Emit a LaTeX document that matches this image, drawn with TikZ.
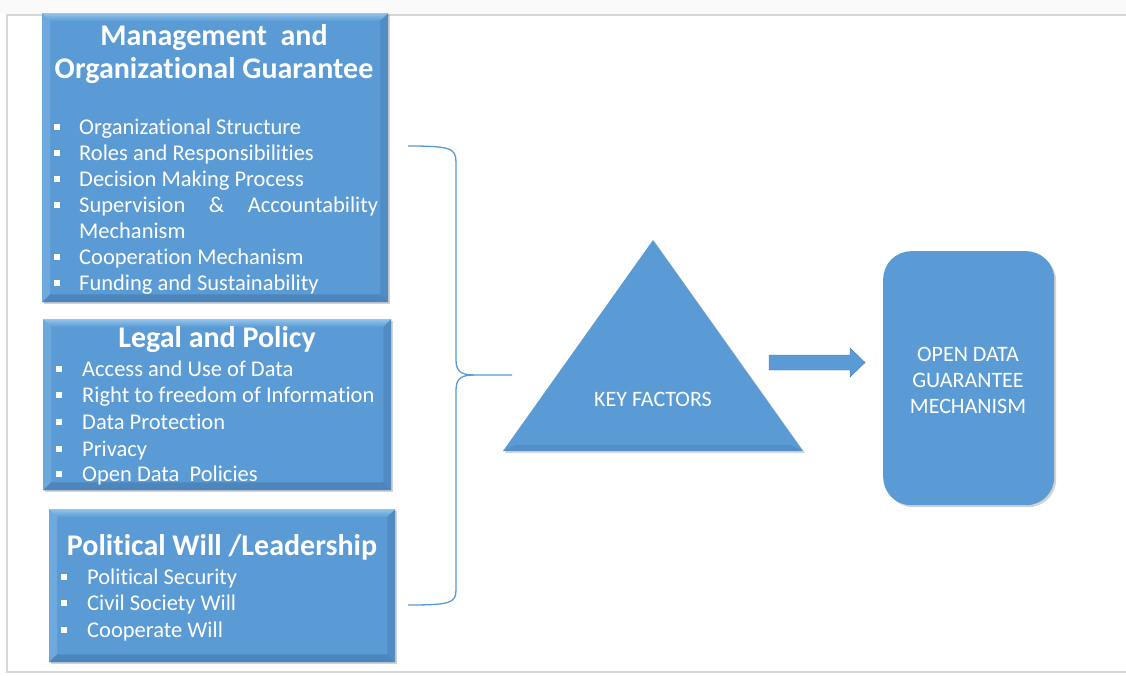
\documentclass[tikz,border=0pt]{standalone}
\usepackage{fontspec}
\setmainfont{Carlito}[Ligatures={NoCommon}]
\usetikzlibrary{shadows,calc}

\definecolor{boxblue}{HTML}{5B9BD5}
\definecolor{bevlight}{HTML}{93C5EE}
\definecolor{bevdark}{HTML}{4478AE}
\definecolor{framegray}{HTML}{D6D6D6}
\definecolor{stripgray}{HTML}{FAFAFA}

\tikzset{
  panel/.style={fill=boxblue, inner sep=0pt, anchor=north west,
    drop shadow={opacity=0.35, shadow xshift=2pt, shadow yshift=-2pt}},
  ptitle/.style={text=white, font=\bfseries\fontsize{30}{35}\selectfont, inner sep=0pt, anchor=base},
  pitem/.style={text=white, font=\fontsize{22.5}{26}\selectfont, inner sep=0pt, anchor=base west},
  pbullet/.style={fill=white, minimum size=5.5pt, inner sep=0pt},
  bracket/.style={draw=boxblue, line width=1.3pt},
  bigarrow/.style={fill=boxblue, draw=bevdark, line width=0.4pt},
  sidetext/.style={text=white, font=\fontsize{22}{26}\selectfont, align=center, inner sep=0pt}
}

% bevelled edges of a rectangular panel
\newcommand\bevelpanel[1]{%
  \shade[top color=bevlight, bottom color=boxblue]
    (#1.north west) -- (#1.north east) -- ($(#1.north east)+(-8,8)$) -- ($(#1.north west)+(8,8)$) -- cycle;
  \fill[bevlight, opacity=0.35]
    (#1.north west) -- ($(#1.north west)+(8,8)$) -- ($(#1.south west)+(8,-8)$) -- (#1.south west) -- cycle;
  \fill[bevdark, opacity=0.45]
    (#1.north east) -- ($(#1.north east)+(-8,8)$) -- ($(#1.south east)+(-8,-8)$) -- (#1.south east) -- cycle;
  \fill[bevdark, opacity=0.6]
    (#1.south west) -- ($(#1.south west)+(8,-8)$) -- ($(#1.south east)+(-8,-8)$) -- (#1.south east) -- cycle;
}

\begin{document}
\begin{tikzpicture}[x=1pt,y=-1pt]
  \useasboundingbox (0,0) rectangle (1126,675);
  % page background and frame
  \fill[white] (0,0) rectangle (1126,675);
  \fill[stripgray] (0,0) rectangle (1126,14);
  \draw[framegray, line width=1.6pt] (1126,15) -- (7,15) -- (7,672) -- (1126,672);

  % ---- panel 1 ----
  \node[panel, minimum width=346pt, minimum height=289pt] (mog) at (42,13) {};
  \bevelpanel{mog}
  \node[ptitle] (mogt1) at (214,45) {Management\ \ and};
  \node[ptitle] (mogt2) at (214,78) {Organizational Guarantee};
  \foreach \y/\t [count=\i] in {134/Organizational Structure, 160/Roles and Responsibilities,
      186/Decision Making Process, 238/Mechanism, 264/Cooperation Mechanism,
      290/Funding and Sustainability}{
    \node[pitem] (mogi\i) at (79,\y) {\t};
  }
  \node[pitem] (mogsup) at (79,212) {\makebox[299pt][s]{Supervision\hfill\&\hfill Accountability}};
  \foreach \y [count=\i] in {134,160,186,212,264,290}{
    \node[pbullet] (mogb\i) at (57,\y-7) {};
  }

  % ---- panel 2 ----
  \node[panel, minimum width=348pt, minimum height=171pt] (lp) at (43,319) {};
  \bevelpanel{lp}
  \node[ptitle] (lpt) at (217,347) {Legal and Policy};
  \foreach \y/\t [count=\i] in {376/Access and Use of Data, 402/Right to freedom of Information,
      429/Data Protection, 456/Privacy, 481/Open Data\ \ Policies}{
    \node[pitem] (lpi\i) at (82,\y) {\t};
    \node[pbullet] (lpb\i) at (59,\y-7) {};
  }

  % ---- panel 3 ----
  \node[panel, minimum width=346pt, minimum height=153pt] (pw) at (49,509) {};
  \bevelpanel{pw}
  \node[ptitle] (pwt) at (222,555) {Political Will /Leadership};
  \foreach \y/\t [count=\i] in {584/Political Security, 610/Civil Society Will, 637/Cooperate Will}{
    \node[pitem] (pwi\i) at (87,\y) {\t};
    \node[pbullet] (pwb\i) at (64,\y-7) {};
  }

  % ---- curly bracket gathering the three panels ----
  \coordinate (btop) at (408,146);
  \coordinate (bbot) at (408,605);
  \coordinate (btip) at (512,375);
  \draw[bracket] (btop) .. controls (450,146) and (456,148) .. (456,162)
    -- (456,360) .. controls (456,372) and (462,375) .. (474,375) -- (btip);
  \draw[bracket] (bbot) .. controls (450,605) and (456,603) .. (456,590)
    -- (456,390) .. controls (456,378) and (462,375) .. (474,375);

  % ---- key factors triangle ----
  \coordinate (kftop) at (653,240);
  \coordinate (kfleft) at (503,451);
  \coordinate (kfright) at (803,451);
  \fill[boxblue, drop shadow={opacity=0.3, shadow xshift=2pt, shadow yshift=-2pt}]
    (kftop) -- (kfright) -- (kfleft) -- cycle;
  \fill[bevdark, opacity=0.35] (kfleft) -- (kfright) -- ($(kfright)+(-12,-6)$) -- ($(kfleft)+(12,-6)$) -- cycle;
  \node[sidetext] (kf) at (653,399) {KEY FACTORS};

  % ---- block arrow to the result box ----
  \coordinate (arrtail) at (769,362.5);
  \coordinate (arrtip) at (865,362.5);
  \fill[bigarrow] (arrtail) ++(0,-7.5) -- ++(81,0) -- ++(0,-7) -- (arrtip)
    -- ++(-15,14.5) -- ++(0,-7) -- ++(-81,0) -- cycle;

  % ---- result box ----
  \node[fill=boxblue, rounded corners=28pt, minimum width=171pt, minimum height=254pt,
        inner sep=0pt, anchor=north west,
        drop shadow={opacity=0.35, shadow xshift=2pt, shadow yshift=-2pt}] (odg) at (883,251) {};
  \node[sidetext] (odgt) at (968,380) {OPEN DATA\\GUARANTEE\\MECHANISM};
\end{tikzpicture}
\end{document}
